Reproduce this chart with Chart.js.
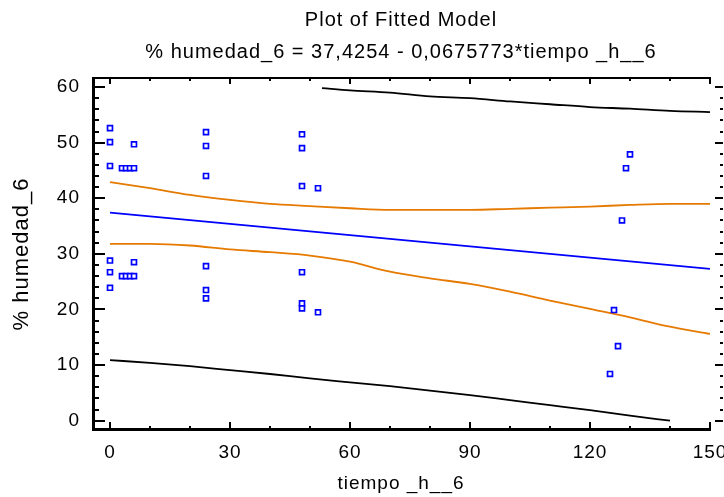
<!DOCTYPE html>
<html>
<head>
<meta charset="utf-8">
<script src="https://cdn.jsdelivr.net/npm/chart.js@4.4.1/dist/chart.umd.min.js"></script>
<style>
  html, body { margin: 0; padding: 0; background: #fff; }
  #box { width: 724px; height: 497px; }
</style>
</head>
<body>
<div id="box"><canvas id="myChart"></canvas></div>
<script>
// observations
const obsTime = [0, 0, 0, 0, 0, 0, 3, 4, 5, 6, 3, 4, 5, 6, 6, 6,
    24, 24, 24, 24, 24, 24, 48, 48, 48, 48, 48, 48, 52, 52,
    125, 126, 127, 128, 129, 130];
const obsHumedad = [52.6, 50.1, 45.8, 28.8, 26.7, 23.9, 45.4, 45.4, 45.4, 45.4, 26.0, 26.0, 26.0, 26.0, 49.7, 28.5,
    51.9, 49.4, 44.0, 27.8, 23.5, 22.0, 51.5, 49.0, 42.2, 26.7, 21.1, 20.2, 41.8, 19.5,
    8.4, 19.9, 13.4, 36.0, 45.4, 47.9];

// fitted line: 37,4254 - 0,0675773*t
const fitTime = [0, 150];
const fitHumedad = [37.4254, 27.2888];

// confidence limits for the mean
const limTime = [0, 10, 20, 30, 40, 50, 60, 70, 80, 90, 100, 110, 120, 130, 140, 150];
const confUpper = [42.9, 41.8, 40.6, 39.7, 39.0, 38.6, 38.2, 37.9, 37.9, 37.9, 38.1, 38.3, 38.5, 38.8, 39.0, 39.0];
const confLower = [31.8, 31.8, 31.5, 30.8, 30.3, 29.7, 28.6, 26.8, 25.6, 24.6, 23.2, 21.6, 20.1, 18.6, 16.9, 15.6];

// prediction limits (only the part inside 0..60)
const predLowerTime = [0, 10, 20, 30, 40, 50, 60, 70, 80, 90, 100, 110, 120, 130, 140];
const predLower = [10.9, 10.4, 9.8, 9.1, 8.4, 7.6, 6.9, 6.2, 5.4, 4.6, 3.7, 2.8, 1.9, 0.9, 0.0];
const predUpperTime = [53, 60, 70, 80, 90, 100, 110, 120, 130, 140, 150];
const predUpper = [59.8, 59.4, 59.0, 58.3, 58.0, 57.4, 56.9, 56.4, 56.1, 55.7, 55.5];

const xTickValues = [0, 30, 60, 90, 120, 150];
const yTickValues = [0, 10, 20, 30, 40, 50, 60];

const titleLines = ['Plot of Fitted Model', '% humedad_6 = 37,4254 - 0,0675773*tiempo _h__6'];
const xTitle = 'tiempo _h__6';
const yTitle = '% humedad_6';

function pairs(xs, ys) {
    return xs.map((x, i) => ({ x: x, y: ys[i] }));
}

const FONT = "'Liberation Sans', Arial, sans-serif";
const ORANGE = '#e67a00';

// wider text spacing, statgraphics draws its labels loosely
const spacingPlugin = {
    id: 'spacing',
    beforeLayout(chart) { chart.ctx.letterSpacing = '1px'; },
    beforeDraw(chart) { chart.ctx.letterSpacing = '1px'; }
};

// frame: inward ticks, top border, right tick column
const framePlugin = {
    id: 'frame',
    afterDatasetsDraw(chart) {
        const ctx = chart.ctx;
        const a = chart.chartArea;
        const xs = chart.scales.x, ys = chart.scales.y;
        ctx.save();
        ctx.strokeStyle = '#000';
        ctx.lineCap = 'butt';

        ctx.lineWidth = 2;
        ctx.beginPath();
        ctx.moveTo(a.left, a.top + 1);
        ctx.lineTo(a.right, a.top + 1);
        ctx.stroke();

        ctx.lineWidth = 3;
        ctx.beginPath();
        ctx.moveTo(a.left + 1.5, a.top);
        ctx.lineTo(a.left + 1.5, a.bottom);
        ctx.moveTo(a.left, a.bottom - 1.5);
        ctx.lineTo(a.right + 1, a.bottom - 1.5);
        ctx.stroke();

        ctx.lineWidth = 2;
        ctx.beginPath();
        for (let v = 0; v <= 60; v += 2) {
            const y = Math.round(ys.getPixelForValue(v));
            const major = v % 10 === 0;
            ctx.moveTo(a.left, y);
            ctx.lineTo(a.left + (major ? 13 : 7), y);
            ctx.moveTo(a.right + (major ? 5 : 10), y);
            ctx.lineTo(a.right + 13, y);
        }
        for (let v = 0; v <= 150; v += 10) {
            const x = Math.round(xs.getPixelForValue(v));
            const major = v % 30 === 0;
            ctx.moveTo(x, a.bottom);
            ctx.lineTo(x, a.bottom - (major ? 9 : 5));
            ctx.moveTo(x, a.top);
            ctx.lineTo(x, a.top + (major ? 7 : 4));
        }
        ctx.stroke();
        ctx.restore();
    }
};

function lineSet(label, xs, ys, color) {
    return {
        label: label,
        data: pairs(xs, ys),
        showLine: true,
        borderColor: color,
        borderWidth: 1.8,
        pointRadius: 0,
        cubicInterpolationMode: 'monotone',
    };
}

const canvas = document.getElementById('myChart').getContext('2d');

const chart = new Chart(canvas, {
    type: 'scatter',
    data: {
        datasets: [{
            label: 'observed',
            data: pairs(obsTime, obsHumedad),
            pointStyle: 'rect',
            pointRadius: 3.5,
            pointBorderWidth: 1.7,
            pointBorderColor: '#0000ff',
            pointBackgroundColor: '#ffffff',
            showLine: false,
        },
        lineSet('fit', fitTime, fitHumedad, '#0000ff'),
        lineSet('conf upper', limTime, confUpper, ORANGE),
        lineSet('conf lower', limTime, confLower, ORANGE),
        lineSet('pred upper', predUpperTime, predUpper, '#000000'),
        lineSet('pred lower', predLowerTime, predLower, '#000000')]
    },
    options: {
        responsive: true,
        maintainAspectRatio: false,
        animation: false,
        events: [],
        layout: { padding: 0 },
        plugins: {
            legend: { display: false },
            tooltip: { enabled: false },
            title: {
                display: true,
                fullSize: false,
                text: titleLines,
                color: '#000',
                font: { family: FONT, size: 20, weight: 'normal', lineHeight: 1.6 },
                padding: { top: 4, bottom: 9 },
            },
        },
        scales: {
            x: {
                type: 'linear',
                min: -4.5,
                max: 150,
                afterBuildTicks: (s) => { s.ticks = xTickValues.map(v => ({ value: v })); },
                afterFit: (s) => { s.height = 66; s.paddingRight = 14; s.paddingLeft = 0; },
                grid: { display: false, drawTicks: false },
                border: { display: false },
                ticks: {
                    color: '#000',
                    padding: 10,
                    maxRotation: 0,
                    font: { family: FONT, size: 19 },
                },
                title: {
                    display: true,
                    text: xTitle,
                    color: '#000',
                    font: { family: FONT, size: 19 },
                    padding: { top: 0, bottom: 2 },
                },
            },
            y: {
                type: 'linear',
                min: -1.85,
                max: 61.8,
                afterBuildTicks: (s) => { s.ticks = yTickValues.map(v => ({ value: v })); },
                afterFit: (s) => { s.width = 92; s.paddingTop = 0; s.paddingBottom = 0; },
                grid: { display: false, drawTicks: false },
                border: { display: false },
                ticks: {
                    color: '#000',
                    padding: 12,
                    font: { family: FONT, size: 19 },
                },
                title: {
                    display: true,
                    text: yTitle,
                    color: '#000',
                    font: { family: FONT, size: 22 },
                    padding: { top: 9, bottom: 0 },
                },
            },
        },
    },
    plugins: [spacingPlugin, framePlugin],
});
</script>
</body>
</html>
